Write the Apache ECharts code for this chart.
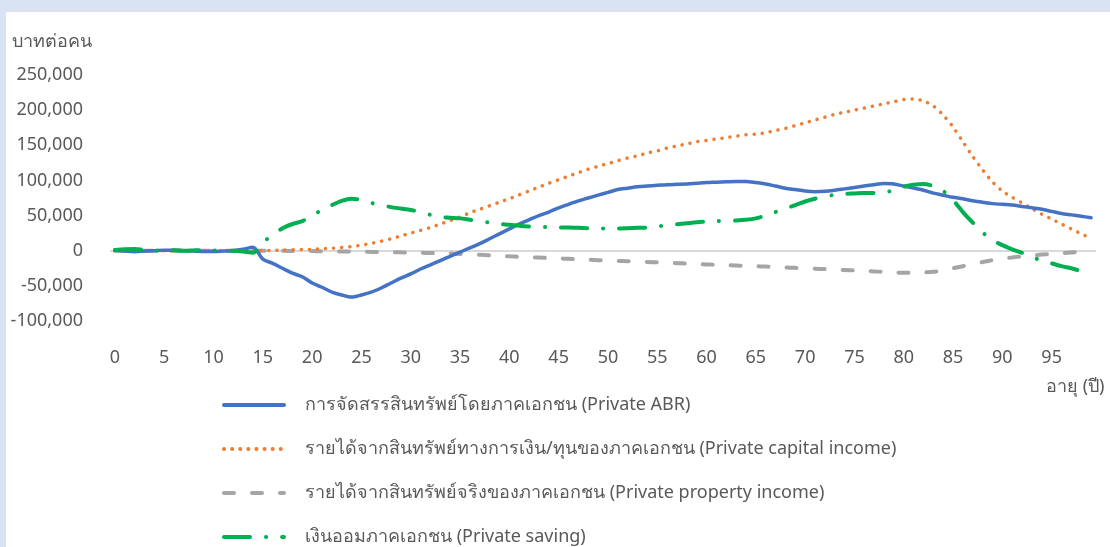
<!DOCTYPE html>
<html>
<head>
<meta charset="utf-8">
<script src="https://cdn.jsdelivr.net/npm/echarts@6/dist/echarts.min.js"></script>
<style>
html,body{margin:0;padding:0;background:#DAE3F3;}
#c{width:1110px;height:547px;}
</style>
</head>
<body>
<div id="c"></div>
<script>
const ages = Array.from({length:100}, (_, i) => String(i));
const yTicks = [-100000, -50000, 0, 50000, 100000, 150000, 200000, 250000];
const seriesNames = [
  'การจัดสรรสินทรัพย์โดยภาคเอกชน (Private ABR)',
  'รายได้จากสินทรัพย์ทางการเงิน/ทุนของภาคเอกชน (Private capital income)',
  'รายได้จากสินทรัพย์จริงของภาคเอกชน (Private property income)',
  'เงินออมภาคเอกชน (Private saving)'
];
const privateABR = [
  500,-500,-1500,-500,0,500,500,0,-500,-1000,
  -1000,-500,0,2000,5000,-12000,-18000,-25000,-32000,-37000,
  -46000,-52000,-59000,-63000,-66000,-63000,-59000,-53000,-46000,-39000,
  -33000,-26000,-20000,-14000,-8000,-2000,4000,10000,17000,24000,
  31000,38000,44000,50000,55000,61000,66000,71000,75000,79000,
  83000,87000,89000,91000,92000,93000,94000,94500,95000,96000,
  97000,97500,98000,98500,98500,97000,95000,92000,89000,87000,
  85000,84000,84500,86000,88000,90000,92000,94000,95500,95000,
  92000,89000,86000,82000,79000,76000,74000,71000,69000,67000,
  66000,65000,63000,61000,59000,56000,53000,51000,49000,47000
];
const privateCapital = [
  0,0,0,0,0,0,0,0,0,0,
  0,0,0,0,0,200,500,800,1200,1600,
  2000,2700,3500,4600,6000,8000,10500,13500,17000,21000,
  25000,29000,33000,38000,43000,48000,54000,59000,64000,69000,
  74000,79500,85000,90500,96000,101000,106000,111000,116000,120000,
  124000,128000,132000,135000,139000,142000,146000,149000,152000,155000,
  157000,159000,161000,163000,165000,166000,168000,171000,174000,178000,
  182000,186000,190000,194000,197000,200000,203000,206000,209000,212000,
  215000,216000,213000,206000,193000,176000,155000,134000,115000,98000,
  85000,76000,68000,60000,52000,45000,38000,31000,24000,18000
];
const privateProperty = [
  0,0,0,0,0,0,0,0,0,0,
  0,0,0,0,0,0,-100,-200,-300,-400,
  -500,-700,-900,-1100,-1300,-1500,-1700,-1900,-2100,-2300,
  -2500,-2900,-3300,-3700,-4100,-4500,-5200,-5900,-6600,-7300,
  -8000,-8600,-9200,-9800,-10400,-11000,-11600,-12200,-12800,-13400,
  -14000,-14500,-15000,-15500,-16000,-16500,-17100,-17700,-18300,-18900,
  -19500,-20000,-20500,-21000,-21500,-22000,-22600,-23200,-23800,-24400,
  -25000,-25600,-26200,-26800,-27400,-28000,-28700,-29400,-30100,-30800,
  -31500,-31500,-31000,-30000,-28000,-25000,-22000,-19000,-16000,-13500,
  -11000,-9500,-8000,-6700,-5500,-4500,-3500,-2500,-1500,-500
];
const privateSaving = [
  1000,2000,2500,1000,0,500,500,0,500,1000,
  500,0,0,-1000,-3000,12000,22000,32000,38000,42000,
  50000,58000,65000,71000,74000,72000,68000,65000,62000,60000,
  58000,55000,51000,48000,47000,46000,44000,42000,40000,38000,
  37000,35500,34500,34000,33500,33000,33000,32500,32000,31500,
  31500,31500,32000,32500,33000,34500,36000,37500,39000,40500,
  41500,42000,42500,43000,44000,46000,50000,55000,60000,65000,
  70000,74000,77000,79500,81000,81500,82000,82000,83000,86000,
  91000,94000,95000,92000,85000,72000,55000,40000,26000,15000,
  8000,2000,-3000,-9000,-14000,-18000,-22000,-25000,-29000,-33000
];

const FONT = '"Noto Sans","Open Sans",sans-serif';
const TXT = '#595959';
const FS = 18;
const legendTops = [395, 439, 483, 527];
const legends = seriesNames.map((n, i) => ({
  orient: 'vertical', left: 222, top: legendTops[i],
  itemWidth: 60, itemHeight: 14, padding: 0,
  itemStyle: {opacity: 0},
  lineStyle: {width: 4},
  textStyle: {fontSize: FS, color: TXT, lineHeight: 20, padding: [0,0,0,16], fontFamily: FONT},
  data: [n]
}));
const chart = echarts.init(document.getElementById('c'), null, {renderer:'canvas'});
chart.setOption({
  backgroundColor: '#DAE3F3',
  animation: false,
  textStyle: {fontFamily: FONT},
  graphic: [
    {type:'rect', z:-100, shape:{x:6, y:12, width:1104, height:535}, style:{fill:'#ffffff'}},
    {type:'text', left:1046, top:378, style:{text:'อายุ (ปี)', fill:TXT, font:FS + 'px ' + FONT}}
  ],
  title: {
    text: 'บาทต่อคน', left: 7, top: 28,
    textStyle: {fontSize: FS, fontWeight: 'normal', color: TXT, fontFamily: FONT}
  },
  grid: {left: 110, right: 14, top: 75, height: 246, containLabel: false},
  legend: legends,
  xAxis: {
    type: 'category', data: ages, boundaryGap: true,
    axisLine: {show: false, onZero: false},
    axisTick: {show: false},
    axisLabel: {interval: 4, color: TXT, fontSize: FS, margin: 28, fontFamily: FONT},
    splitLine: {show: false}
  },
  yAxis: {
    type: 'value', min: yTicks[0], max: yTicks[yTicks.length-1], interval: 50000,
    axisLine: {show: false}, axisTick: {show: false},
    splitLine: {show: false},
    axisLabel: {color: TXT, fontSize: FS, margin: 27, fontFamily: FONT,
      formatter: v => v.toLocaleString('en-US')}
  },
  series: [
    {
      name: seriesNames[0], type: 'line', data: privateABR, smooth: 0.3,
      symbol: 'none', z: 5,
      lineStyle: {color: '#4472C4', width: 3.5, cap: 'round', join: 'round'},
      itemStyle: {color: '#4472C4'},
      markLine: {
        silent: true, symbol: 'none', label: {show: false}, z: 1,
        lineStyle: {color: '#D9D9D9', width: 2, type: 'solid'},
        data: [{yAxis: 0}]
      }
    },
    {
      name: seriesNames[1], type: 'line', data: privateCapital, smooth: 0.3,
      symbol: 'none', z: 4,
      lineStyle: {color: '#ED7D31', width: 3.5, type: [0.1, 8], cap: 'round'},
      itemStyle: {color: '#ED7D31'}
    },
    {
      name: seriesNames[2], type: 'line', data: privateProperty, smooth: 0.3,
      symbol: 'none', z: 3,
      lineStyle: {color: '#A5A5A5', width: 4, type: [10, 18], cap: 'round'},
      itemStyle: {color: '#A5A5A5'}
    },
    {
      name: seriesNames[3], type: 'line', data: privateSaving, smooth: 0.3,
      symbol: 'none', z: 6,
      lineStyle: {color: '#00B050', width: 4, type: [26, 16, 0.1, 16], cap: 'round'},
      itemStyle: {color: '#00B050'}
    }
  ]
});
</script>
</body>
</html>
